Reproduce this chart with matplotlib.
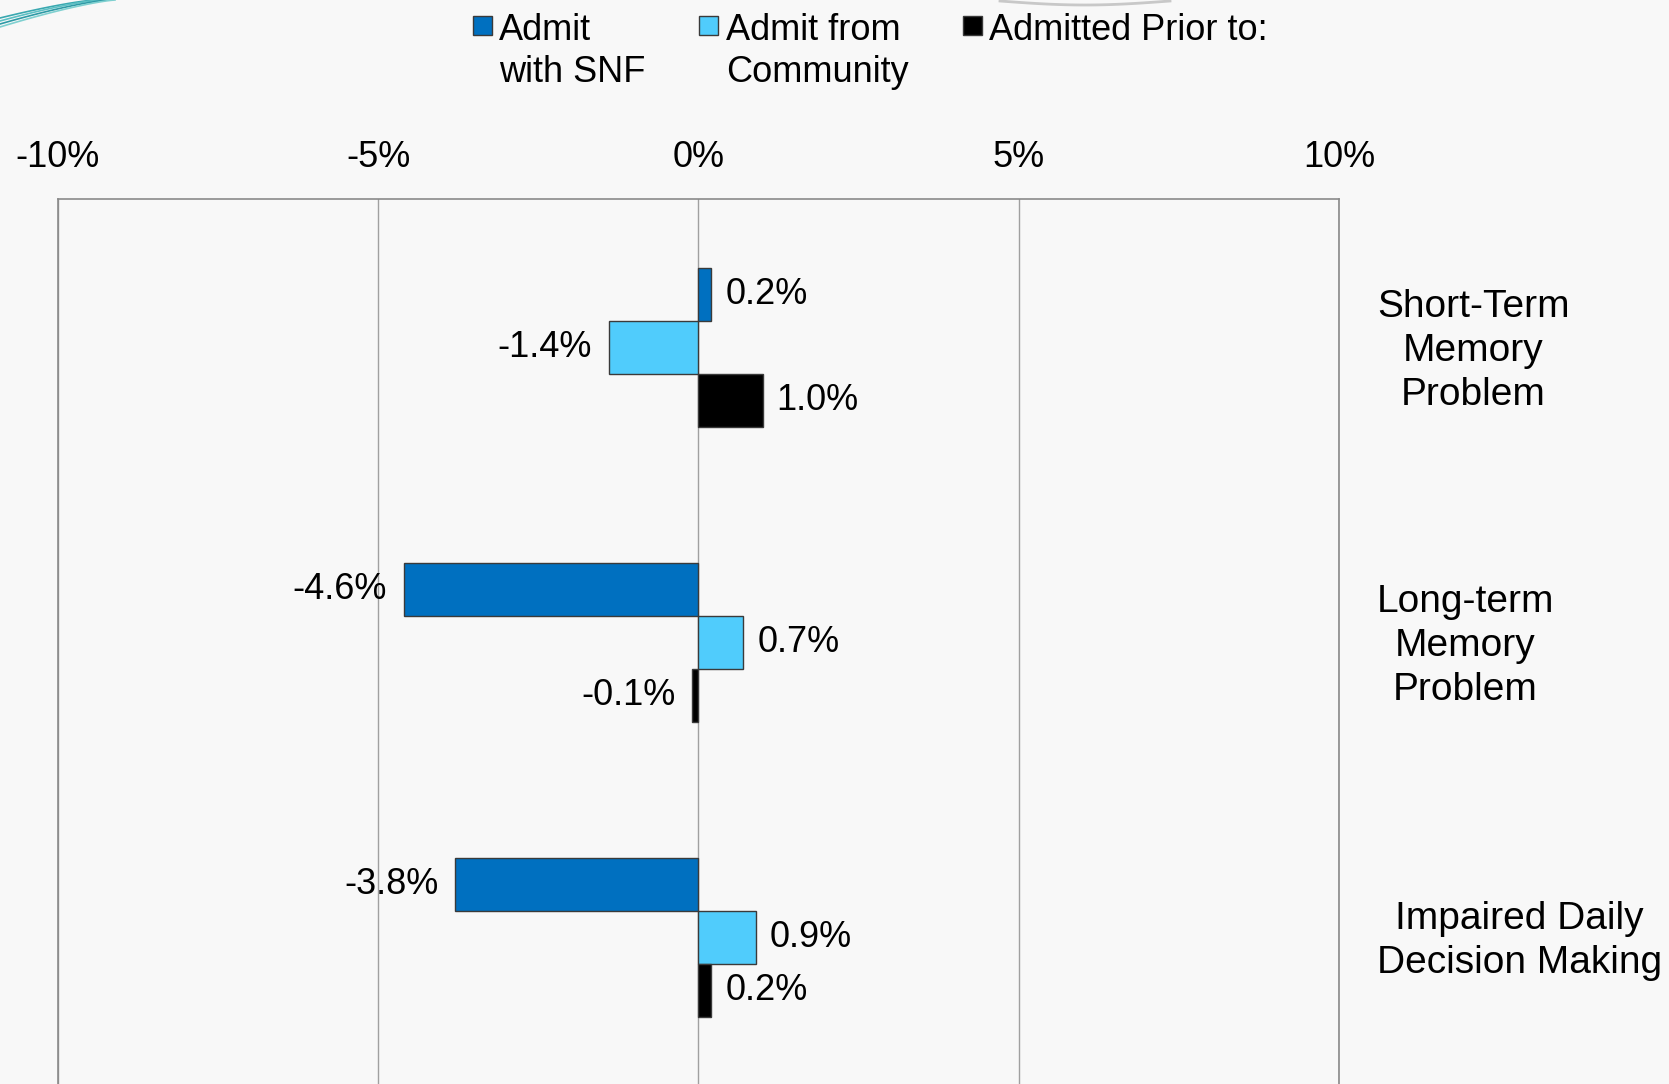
import numpy as np
import matplotlib.pyplot as plt
from matplotlib.patches import Rectangle
from matplotlib.lines import Line2D

# chart data
categories = ["Short-Term\nMemory\nProblem", "Long-term\nMemory\nProblem", "Impaired Daily\nDecision Making"]
series_names = ["Admit\nwith SNF", "Admit from\nCommunity", "Admitted Prior to:"]
snf_values = [0.2, -4.6, -3.8]
community_values = [-1.4, 0.7, 0.9]
prior_values = [1.0, -0.1, 0.2]
x_ticks = [-10, -5, 0, 5, 10]
x_tick_labels = ["-10%", "-5%", "0%", "5%", "10%"]

colors = ["#0070C0", "#50CCFC", "#000000"]
bg = "#f8f8f8"
fs = 26

plt.rcParams["font.family"] = ["Liberation Sans", "DejaVu Sans"]

fig = plt.figure(figsize=(16.69, 10.84), dpi=100, facecolor=bg)
ax = fig.add_axes([0.0345, -0.001, 0.768, 0.8175])
ax.set_facecolor(bg)

# horizontal clustered bars, one row per category
y = np.arange(len(categories))
bar_h = 0.18
all_series = [snf_values, community_values, prior_values]
for k, vals in enumerate(all_series):
    pos = y + (k - 1) * bar_h
    bars = ax.barh(pos, vals, height=bar_h, color=colors[k],
                   edgecolor="#3a3a3a", linewidth=1.0, zorder=3)
    for b, v in zip(bars, vals):
        yc = b.get_y() + b.get_height() / 2
        if v >= 0:
            ax.annotate(f"{v:.1f}%", (v, yc), xytext=(10, 0), textcoords="offset points",
                        ha="left", va="center", fontsize=fs, zorder=4)
        else:
            ax.annotate(f"{v:.1f}%", (v, yc), xytext=(-12, 0), textcoords="offset points",
                        ha="right", va="center", fontsize=fs, zorder=4)

ax.set_xlim(-10, 10)
ax.set_ylim(2.5, -0.505)

# percent ticks along the top
ax.xaxis.tick_top()
ax.set_xticks(x_ticks)
ax.set_xticklabels(x_tick_labels, fontsize=fs)
ax.tick_params(axis="x", length=0, pad=17)
ax.grid(axis="x", color="#a0a0a0", linewidth=1.0, zorder=1)

# category names to the right of the plot box
ax.set_yticks([])
for yi, cat in zip(y, categories):
    ax.annotate(cat, xy=(1, yi), xycoords=("axes fraction", "data"),
                xytext=(27, -2.5), textcoords="offset points",
                ha="left", va="center", multialignment="center",
                fontsize=28, linespacing=1.29, annotation_clip=False)

for side in ["top", "left", "right"]:
    ax.spines[side].set_color("#8a8a8a")
    ax.spines[side].set_linewidth(1.2)
ax.spines["bottom"].set_visible(False)

# legend along the top edge
W, H = 1669, 1084
legend_x = [473, 699, 963]
legend_text_x = [499, 726, 989]
sq = 19
for k, name in enumerate(series_names):
    fig.patches.append(Rectangle((legend_x[k] / W, 1 - 35 / H), sq / W, sq / H,
                                 transform=fig.transFigure, facecolor=colors[k],
                                 edgecolor="#3a3a3a", linewidth=1.0))
    n_lines = name.count("\n") + 1
    yc = 30 + (n_lines - 1) * 21.3
    fig.text(legend_text_x[k] / W, 1 - yc / H, name, fontsize=fs, ha="left",
             va="center", linespacing=1.28)

# slide decoration: teal swoosh top-left and a faint grey arc
for i, (y0, x1) in enumerate([(18, 95), (21, 100), (24, 108), (27, 115)]):
    t = np.linspace(0, 1, 30)
    xs = x1 * t
    ys = y0 * (1 - t) ** 1.3
    fig.add_artist(Line2D(xs / W, 1 - ys / H, transform=fig.transFigure,
                          color=["#3aa8b0", "#5cc0c4", "#2e9aa6", "#7fd0d0"][i], linewidth=1.2))
t = np.linspace(0, 1, 60)
arc_x = 1000 + 170 * t
arc_y = 1 + 4 * np.sin(np.pi * t)
fig.add_artist(Line2D(arc_x / W, 1 - arc_y / H, transform=fig.transFigure,
                      color="#c8c8c8", linewidth=2))

plt.savefig("out.png", dpi=100, facecolor=bg)
